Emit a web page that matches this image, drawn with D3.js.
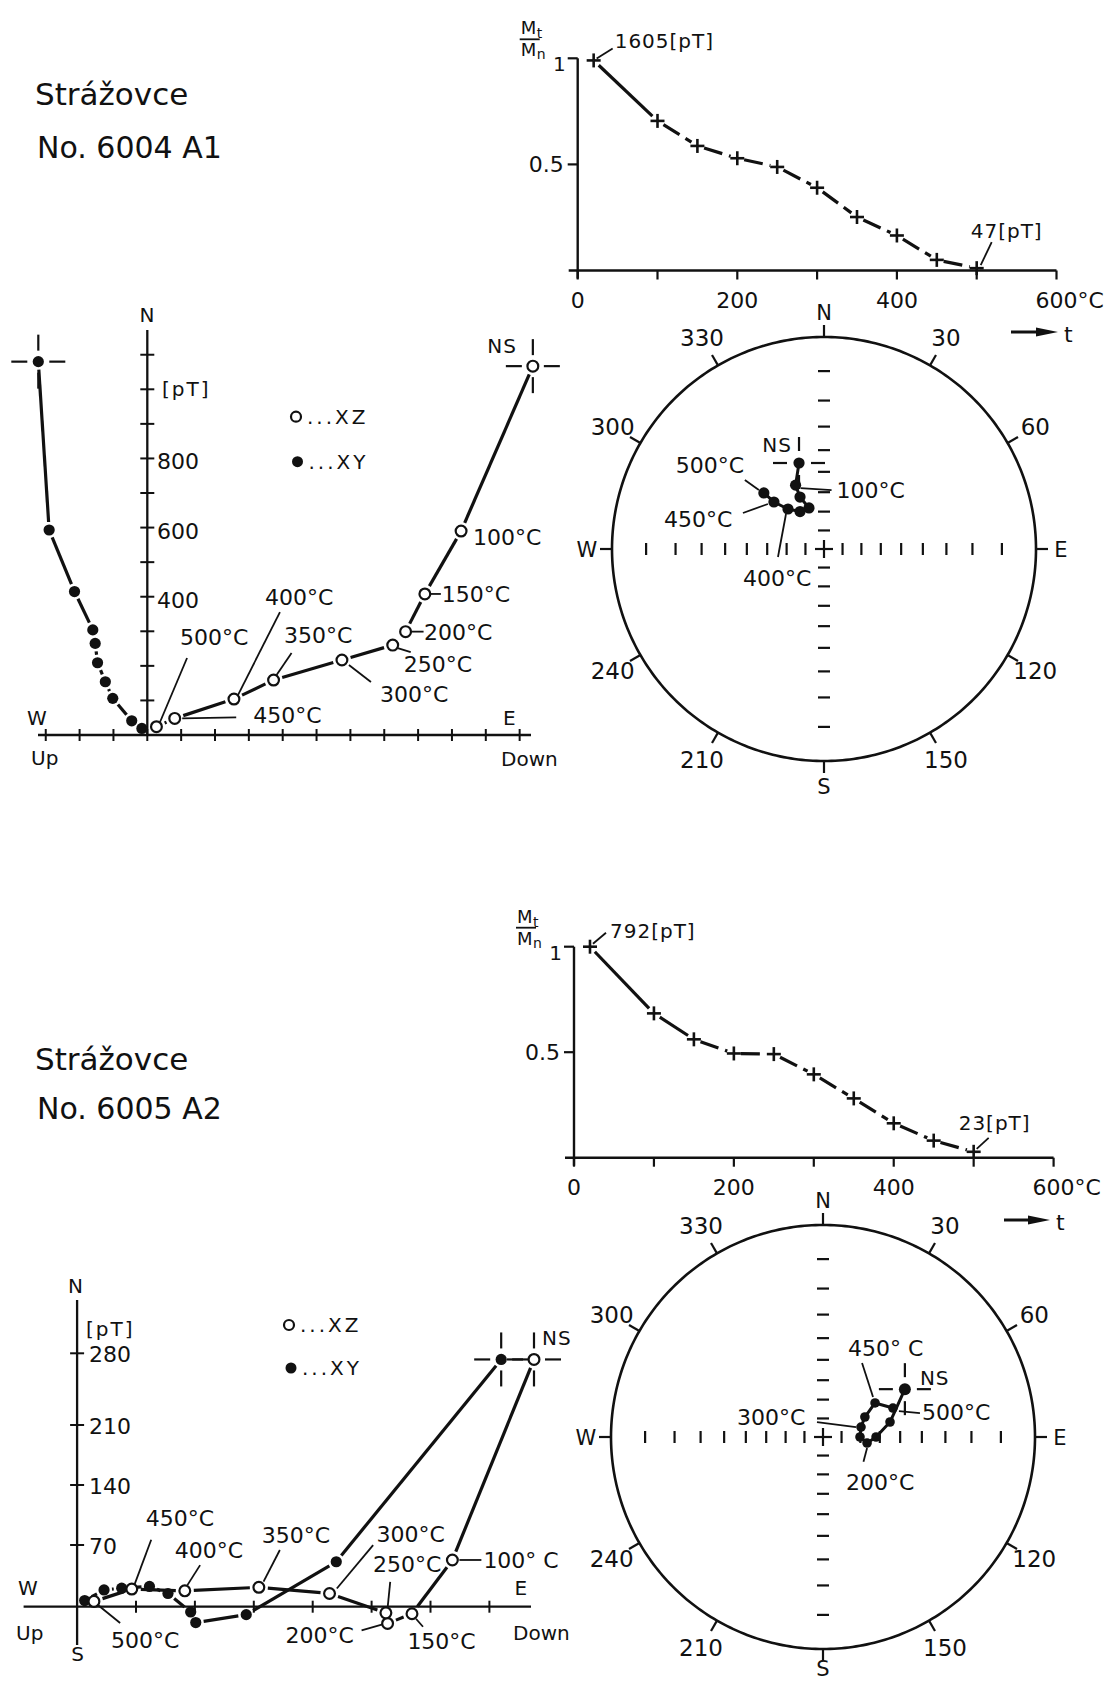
<!DOCTYPE html>
<html>
<head>
<meta charset="utf-8">
<title>Strážovce 6004 A1 / 6005 A2</title>
<script src="https://cdn.jsdelivr.net/npm/d3@7"></script>
<style>
  body { margin: 0; background: #fff; }
  svg text { font-family: "DejaVu Sans", sans-serif; fill: #111; }
</style>
</head>
<body>
<svg id="fig" width="1114" height="1683"></svg>
<script>
// ---------- values ----------
// sample No. 6004 A1
const demagT_A = [20, 100, 150, 200, 250, 300, 350, 400, 450, 500];
const demagM_A = [0.99, 0.705, 0.587, 0.529, 0.488, 0.39, 0.252, 0.165, 0.05, 0.011];
const zijSteps = ["NRM", 100, 150, 200, 250, 300, 350, 400, 450, 500];
const xyE_A = [-322, -290, -215, -161, -154, -147, -124, -102, -46, -16];
const xyN_A = [1080, 593, 415, 304, 265, 209, 154, 106, 41, 19];
const xzD_A = [1139, 927, 820, 763, 725, 575, 373, 256, 81, 27];
const xzN_A = [1067, 590, 408, 299, 260, 217, 159, 104, 48, 24];
const stSteps_A = ["NRM", 100, 150, 200, 300, 400, 450, 500];
const stDec_A = [343.8, 336, 335.2, 339.9, 327.4, 318, 313.2, 313];
const stInc_A = [44.2, 53.5, 59.8, 66.7, 66.3, 61.5, 54.1, 47.6];

// sample No. 6005 A2
const demagT_B = [20, 100, 150, 200, 250, 300, 350, 400, 450, 500];
const demagM_B = [1.0, 0.684, 0.561, 0.494, 0.491, 0.395, 0.281, 0.163, 0.081, 0.028];
const xyE_B = [504, 308, 201, 141, 135, 108, 86, 53, 32, 9];
const xyN_B = [274, 51, -9, -18, -6, 15, 23, 21, 19, 7];
const xzD_B = [543, 446, 398, 369, 367, 300, 216, 128, 65, 20];
const xzN_B = [274, 53, -8, -19, -7, 15, 22, 18, 20, 6];
const stSteps_B = ["NRM", 100, 150, 200, 250, 300, 350, 450, 500];
const stDec_B = [59.7, 77.4, 90, 97.8, 90, 75.3, 64.5, 56.8, 67.5];
const stInc_B = [41.8, 54.1, 61.9, 66.3, 70.2, 69, 65.3, 57.3, 50.7];

// tick labels
const demagXLabels = [0, 200, 400];
const azimuthLabels = [30, 60, 120, 150, 210, 240, 300, 330];
const cardinals = [["N", 0], ["E", 90], ["S", 180], ["W", 270]];

// ---------- helpers ----------
const INK = "#111";
const svg = d3.select("#fig");
svg.append("rect").attr("width", 1114).attr("height", 1683).attr("fill", "#fff");

function ln(g, x1, y1, x2, y2, w) {
  return g.append("line").attr("x1", x1).attr("y1", y1).attr("x2", x2).attr("y2", y2)
    .attr("stroke", INK).attr("stroke-width", w || 2);
}
function tx(g, x, y, s, size, anchor) {
  return g.append("text").attr("x", x).attr("y", y).attr("font-size", size || 22)
    .attr("text-anchor", anchor || "start").text(s);
}
function cross(g, x, y, a, b, w) {
  ln(g, x - b, y, x - a, y, w); ln(g, x + a, y, x + b, y, w);
  ln(g, x, y - b, x, y - a, w); ln(g, x, y + a, x, y + b, w);
}
function gapSeg(g, p, q, gp, gq, w, dash) {
  const dx = q[0] - p[0], dy = q[1] - p[1], L = Math.hypot(dx, dy);
  if (L <= gp + gq + 1) return;
  const ux = dx / L, uy = dy / L;
  const s = ln(g, p[0] + ux * gp, p[1] + uy * gp, q[0] - ux * gq, q[1] - uy * gq, w);
  if (dash) s.attr("stroke-dasharray", dash);
}
function leaderLabel(g, p, lab, size) {
  if (lab.l) ln(g, p[0] + lab.l[0], p[1] + lab.l[1], p[0] + lab.l[2], p[1] + lab.l[3], 1.8);
  return tx(g, p[0] + lab.t[0], p[1] + lab.t[1], lab.s, size || 22, lab.a || "start");
}

// ---------- titles ----------
tx(svg, 35, 105, "Strážovce", 31);
tx(svg, 37, 158, "No. 6004 A1", 30);
tx(svg, 35, 1070, "Strážovce", 31);
tx(svg, 37, 1119, "No. 6005 A2", 30);

// ---------- demagnetisation curve ----------
function demagPanel(c) {
  const g = svg.append("g");
  const x = d3.scaleLinear().domain([0, 600]).range(c.xr);
  const y = d3.scaleLinear().domain([0, 1]).range(c.yr);
  const X0 = x(0), Y0 = y(0);
  ln(g, X0 - 9, Y0, x(600), Y0, 2.4);
  ln(g, X0, Y0 + 8, X0, y(1), 2.4);
  d3.range(0, 601, 100).forEach(t => ln(g, x(t), Y0, x(t), Y0 + 9, 2.2));
  [1, 0.5].forEach(v => ln(g, X0 - 10, y(v), X0, y(v), 2.2));
  demagXLabels.forEach(t => tx(g, x(t), Y0 + 37, String(t), 22, "middle"));
  tx(g, x(600) - 21, Y0 + 37, "600°C", 22);
  tx(g, X0 - 14, y(0.5) + 8, "0.5", 22, "end");
  tx(g, X0 - 12, y(1) + 13, "1", 20, "end");
  // M_t / M_n
  const mx = X0 - 57;
  tx(g, mx, y(1) - 24, "M", 18); tx(g, mx + 16, y(1) - 20, "t", 14);
  ln(g, mx - 1, y(1) - 19, mx + 19, y(1) - 19, 1.8);
  tx(g, mx, y(1) - 2, "M", 18); tx(g, mx + 16, y(1) + 1, "n", 14);
  // data
  const pts = c.t.map((t, i) => [x(t), y(c.m[i])]);
  for (let i = 0; i < pts.length - 1; i++)
    gapSeg(g, pts[i], pts[i + 1], 7, 7, 3.2, i < c.solid ? null : "19,7");
  pts.forEach(p => cross(g, p[0], p[1], 0, 7, 2.6));
  leaderLabel(g, pts[0], c.first, 20).attr("letter-spacing", 1);
  leaderLabel(g, pts[pts.length - 1], c.last, 20).attr("letter-spacing", 1);
  // -> t
  ln(g, c.arrow[0], c.arrow[2], c.arrow[1] - 14, c.arrow[2], 3);
  g.append("path").attr("fill", INK)
    .attr("d", `M${c.arrow[1] - 22},${c.arrow[2] - 4.5}L${c.arrow[1]},${c.arrow[2]}L${c.arrow[1] - 22},${c.arrow[2] + 4.5}Z`);
  tx(g, c.arrow[1] + 6, c.arrow[2] + 10, "t", 22);
}

demagPanel({
  t: demagT_A, m: demagM_A, xr: [577.7, 1056.5], yr: [270.5, 58.3], solid: 1,
  first: { s: "1605[pT]", t: [21, -12], l: [3, -2, 19, -12] },
  last: { s: "47[pT]", t: [-6, -30], l: [15, -26, 4, -3] },
  arrow: [1011, 1058, 332]
});
demagPanel({
  t: demagT_B, m: demagM_B, xr: [574, 1053.6], yr: [1157.7, 946.7], solid: 2,
  first: { s: "792[pT]", t: [20, -9], l: [3, -3, 16, -14] },
  last: { s: "23[pT]", t: [-15, -22], l: [15, -14, 3, -3] },
  arrow: [1004, 1050, 1220]
});

// ---------- Zijderveld diagram ----------
function zijPanel(c) {
  const g = svg.append("g");
  const x = c.x, y = c.y, X0 = x(0), Y0 = y(0);
  ln(g, c.h[0], Y0, c.h[1], Y0, 2.3);
  ln(g, X0, c.v[0], X0, c.v[1], 2.3);
  c.xTicks.forEach(v => ln(g, x(v), Y0 - 6, x(v), Y0 + 6, 2));
  c.yTicks.forEach(v => ln(g, X0 - 7, y(v), X0 + 7, y(v), 2));
  c.yLabels.forEach(v => tx(g, c.labX, y(v) + c.labDy, String(v), 22));
  tx(g, c.unit[0], c.unit[1], "[pT]", 20).attr("letter-spacing", 2);
  c.letters.forEach(d => tx(g, d[1], d[2], d[0], 20, d[3] || "start"));
  // legend
  g.append("circle").attr("cx", c.legXZ[0]).attr("cy", c.legXZ[1]).attr("r", 5)
    .attr("fill", "#fff").attr("stroke", INK).attr("stroke-width", 2.2);
  tx(g, c.legXZ[0] + 11, c.legXZ[1] + 7, "...XZ", 20).attr("letter-spacing", 3);
  g.append("circle").attr("cx", c.legXY[0]).attr("cy", c.legXY[1]).attr("r", 5.5).attr("fill", INK);
  tx(g, c.legXY[0] + 11, c.legXY[1] + 7, "...XY", 20).attr("letter-spacing", 3);

  const pXY = c.xyE.map((e, i) => [x(e), y(c.xyN[i])]);
  const pXZ = c.xzD.map((d, i) => [x(d), y(c.xzN[i])]);
  for (let i = 0; i < pXY.length - 1; i++) gapSeg(g, pXY[i], pXY[i + 1], 8, 8, 3.2);
  for (let i = 0; i < pXZ.length - 1; i++) gapSeg(g, pXZ[i], pXZ[i + 1], 9, 9, 3.2);
  cross(g, pXY[0][0], pXY[0][1], 11, 27, 2.2);
  cross(g, pXZ[0][0], pXZ[0][1], 11, 27, 2.2);
  pXY.forEach(p => g.append("circle").attr("cx", p[0]).attr("cy", p[1]).attr("r", 5.6).attr("fill", INK));
  pXZ.forEach(p => g.append("circle").attr("cx", p[0]).attr("cy", p[1]).attr("r", 5.4)
    .attr("fill", "#fff").attr("stroke", INK).attr("stroke-width", 2.2));
  tx(g, pXZ[0][0] + c.ns[0], pXZ[0][1] + c.ns[1], "NS", 20, c.ns[2]).attr("letter-spacing", 1);
  zijSteps.forEach((s, i) => { if (c.labels[s]) leaderLabel(g, pXZ[i], c.labels[s], 22); });
}

zijPanel({
  x: d3.scaleLinear().domain([0, 1000]).range([147.3, 485.8]),
  y: d3.scaleLinear().domain([0, 1000]).range([735, 389.3]),
  h: [38, 531], v: [330, 735],
  xTicks: d3.range(-300, 1101, 100), yTicks: d3.range(100, 1101, 100),
  yLabels: [400, 600, 800], labX: 157, labDy: 11, unit: [162, 396],
  letters: [["N", 147, 322, "middle"], ["W", 27, 725], ["E", 503, 725], ["Up", 31, 765], ["Down", 501, 766]],
  legXZ: [296, 416.7], legXY: [297.5, 461.7],
  xyE: xyE_A, xyN: xyN_A, xzD: xzD_A, xzN: xzN_A,
  ns: [-16, -13, "end"],
  labels: {
    100: { s: "100°C", t: [12, 14] },
    150: { s: "150°C", t: [17, 8], l: [5, 0, 16, 0] },
    200: { s: "200°C", t: [18.5, 8], l: [5, 0, 18, 0] },
    250: { s: "250°C", t: [11, 27], l: [5, 3, 18, 7] },
    300: { s: "300°C", t: [38, 42], l: [7, 5, 29, 22] },
    350: { s: "350°C", t: [10.5, -37], l: [3, -5, 18, -27] },
    400: { s: "400°C", t: [31, -94], l: [4, -4, 46, -87] },
    450: { s: "450°C", t: [78.5, 5], l: [7.5, 0, 61.5, -1] },
    500: { s: "500°C", t: [23.6, -82], l: [3.6, -4.7, 30.6, -68.7] }
  }
});

zijPanel({
  x: d3.scaleLinear().domain([0, 70]).range([77.1, 136.0]),
  y: d3.scaleLinear().domain([0, 70, 140, 210, 280]).range([1606.7, 1545, 1485, 1425, 1353.3]),
  h: [23.6, 531], v: [1300, 1645],
  xTicks: d3.range(70, 491, 70), yTicks: [70, 140, 210, 280],
  yLabels: [70, 140, 210, 280], labX: 89, labDy: 9, unit: [86, 1336],
  letters: [["N", 75.5, 1293, "middle"], ["S", 77.5, 1661, "middle"], ["W", 18, 1595], ["E", 514.5, 1595],
            ["Up", 16, 1640], ["Down", 513, 1640]],
  legXZ: [289, 1325], legXY: [291, 1368],
  xyE: xyE_B, xyN: xyN_B, xzD: xzD_B, xzN: xzN_B,
  ns: [8, -14, "start"],
  labels: {
    100: { s: "100° C", t: [31, 8.3], l: [7, 0, 29, 0] },
    150: { s: "150°C", t: [-4.6, 35], l: [4, 5, 11, 13] },
    200: { s: "200°C", t: [-102, 20], l: [-26, 7, -5, 1] },
    250: { s: "250°C", t: [-13, -41], l: [4.3, -31, 1.8, -6] },
    300: { s: "300°C", t: [47, -51.6], l: [43.6, -48.3, 7.3, -5] },
    350: { s: "350°C", t: [3, -44.3], l: [21, -37.3, 4.7, -5.6] },
    400: { s: "400°C", t: [-10, -32.7], l: [15.3, -25.7, 2.6, -5.7] },
    450: { s: "450°C", t: [14, -62.6], l: [19.4, -49.3, 2.9, -5] },
    500: { s: "500°C", t: [17, 46.6], l: [3.7, 3.3, 26.2, 21.6] }
  }
});

// ---------- stereographic (Wulff) projection ----------
function stereoPanel(c) {
  const g = svg.append("g");
  const R = c.R;
  const proj = d3.geoStereographic().scale(R).translate([c.cx, c.cy]).rotate([0, -90]).clipAngle(179);
  const P = (dec, inc) => proj([180 - dec, inc]);
  const path = d3.geoPath(proj);
  g.append("path").attr("d", path(d3.geoCircle().center([0, 90]).radius(90).precision(1)()))
    .attr("fill", "none").attr("stroke", INK).attr("stroke-width", 2.6);
  // inclination ticks along the N-S / E-W diameters
  d3.range(10, 90, 10).forEach(inc => {
    [0, 180].forEach(d => { const p = P(d, inc); ln(g, p[0] - 6, p[1], p[0] + 6, p[1], 2.2); });
    [90, 270].forEach(d => { const p = P(d, inc); ln(g, p[0], p[1] - 6, p[0], p[1] + 6, 2.2); });
  });
  ln(g, c.cx - 9, c.cy, c.cx + 9, c.cy, 2.2); ln(g, c.cx, c.cy - 9, c.cx, c.cy + 9, 2.2);
  // azimuth ticks on the primitive
  d3.range(0, 360, 30).forEach(a => {
    const p = P(a, 0), ux = (p[0] - c.cx) / R, uy = (p[1] - c.cy) / R;
    ln(g, p[0], p[1], p[0] + ux * 12, p[1] + uy * 12, 2.2);
  });
  azimuthLabels.forEach(a => {
    const r = a * Math.PI / 180;
    tx(g, c.cx + 244 * Math.sin(r), c.cy - 244 * Math.cos(r) + 8, String(a), 23, "middle");
  });
  cardinals.forEach(([s, a]) => {
    const r = a * Math.PI / 180, rho = a === 180 ? c.sRho : 237;
    tx(g, c.cx + rho * Math.sin(r), c.cy - rho * Math.cos(r) + 8, s, 21, "middle");
  });
  // data
  const pts = c.dec.map((d, i) => P(d, c.inc[i]));
  g.append("path").attr("d", d3.line()(pts)).attr("fill", "none")
    .attr("stroke", INK).attr("stroke-width", 3).attr("stroke-linejoin", "round");
  cross(g, pts[0][0], pts[0][1], 12, 26, 2.2);
  pts.forEach((p, i) => g.append("circle").attr("cx", p[0]).attr("cy", p[1])
    .attr("r", i === 0 ? c.r0 : c.r).attr("fill", INK));
  tx(g, pts[0][0] + c.ns[0], pts[0][1] + c.ns[1], "NS", 20, c.ns[2]).attr("letter-spacing", 1);
  c.steps.forEach((s, i) => { if (c.labels[s]) leaderLabel(g, pts[i], c.labels[s], 22); });
}

stereoPanel({
  cx: 824, cy: 549, R: 212, dec: stDec_A, inc: stInc_A, steps: stSteps_A, r: 5.6, r0: 5.6, sRho: 237,
  ns: [-7, -11, "end"],
  labels: {
    100: { s: "100°C", t: [41, 13], l: [5, 3, 36, 5] },
    500: { s: "500°C", t: [-88, -20], l: [-19, -13, -5, -3] },
    450: { s: "450°C", t: [-110, 25], l: [-31, 11, -6, 2] },
    400: { s: "400°C", t: [-45, 77], l: [-2, 5, -10, 48] }
  }
});
stereoPanel({
  cx: 823, cy: 1437, R: 212, dec: stDec_B, inc: stInc_B, steps: stSteps_B, r: 4.8, r0: 6, sRho: 231,
  ns: [15, -4, "start"],
  labels: {
    450: { s: "450° C", t: [-27, -47], l: [-13, -40, -2, -6] },
    500: { s: "500°C", t: [29, 12], l: [6, 3, 27, 5] },
    300: { s: "300°C", t: [-124, -2], l: [-44, -5, -5, 0] },
    200: { s: "200°C", t: [-21, 47], l: [0, 5, -3.6, 18.7] }
  }
});
</script>
</body>
</html>
